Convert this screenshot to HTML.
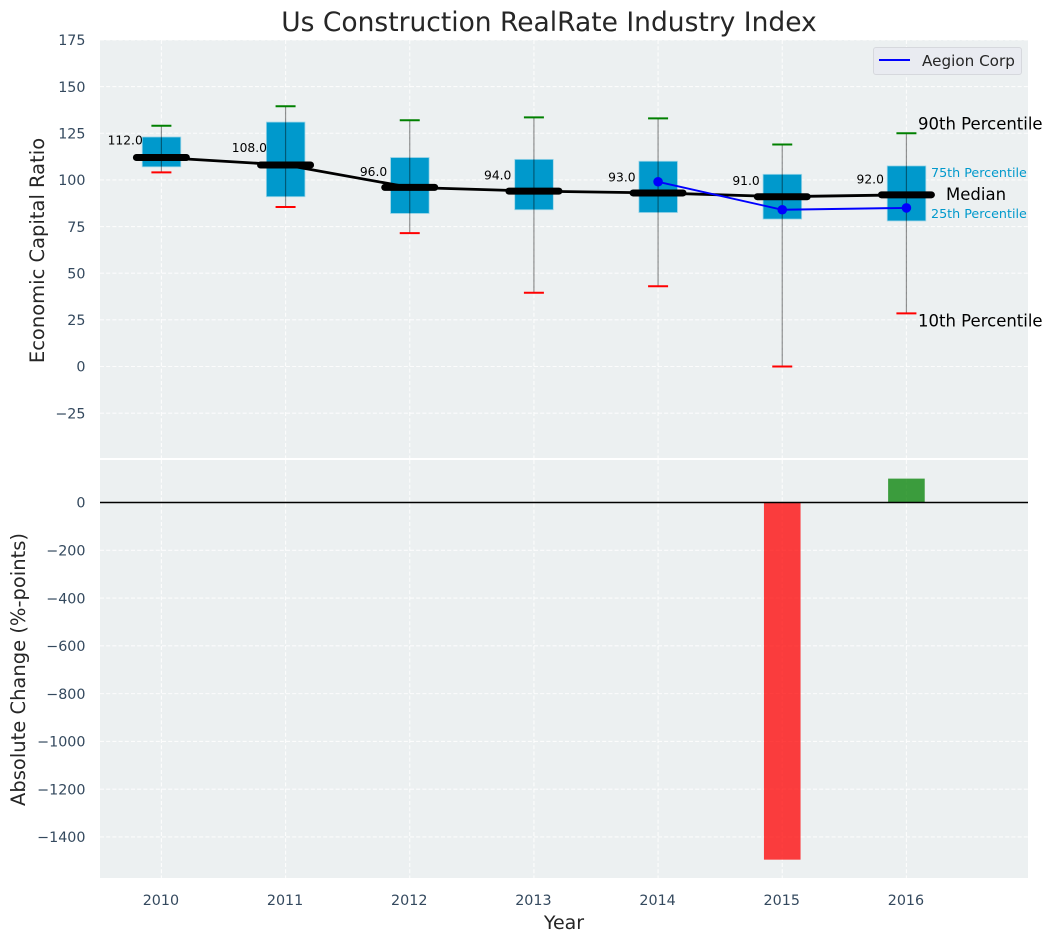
<!DOCTYPE html>
<html>
<head>
<meta charset="utf-8">
<title>Us Construction RealRate Industry Index</title>
<style>
html,body{margin:0;padding:0;background:#fff;}
svg{display:block;font-family:"DejaVu Sans","Liberation Sans",sans-serif;}
</style>
</head>
<body>
<svg id="chart" xmlns="http://www.w3.org/2000/svg" width="1053" height="942" viewBox="0 0 1053 942">
  <text x="549" y="31" text-anchor="middle" font-size="26.5" fill="#262626">Us Construction RealRate Industry Index</text>
  <rect x="100" y="40" width="928" height="418" fill="#ecf0f1"/>
  <rect x="100" y="460" width="928" height="418" fill="#ecf0f1"/>
  <g id="grid"></g>
  <g id="bars"></g>
  <g id="boxes"></g>
  <g id="lines"></g>
  <g id="labels"></g>
  <text x="0" y="0" transform="translate(44,250.5) rotate(-90)" text-anchor="middle" font-size="19.5" fill="#262626">Economic Capital Ratio</text>
  <text x="0" y="0" transform="translate(25,669.5) rotate(-90)" text-anchor="middle" font-size="19.5" fill="#262626">Absolute Change (%-points)</text>
  <text x="564" y="929" text-anchor="middle" font-size="19" fill="#262626">Year</text>
  <g>
    <rect x="873.5" y="47.5" width="148" height="27" rx="2.5" fill="#e9ebf1" stroke="#d6d8dd" stroke-width="1"/>
    <line x1="879" y1="60" x2="910" y2="60" stroke="#0000ff" stroke-width="2"/>
    <text x="922" y="66" font-size="15.2" fill="#262626">Aegion Corp</text>
  </g>
</svg>
<script>
var years = [2010, 2011, 2012, 2013, 2014, 2015, 2016];
var medians = [112, 108, 96, 94, 93, 91, 92];
var p10 = [104, 85.5, 71.5, 39.5, 43, 0, 28.5];
var p25 = [107, 91, 82, 84, 82.5, 79, 78];
var p75 = [123, 131, 112, 111, 110, 103, 107.5];
var p90 = [129, 139.5, 132, 133.5, 133, 119, 125];
var companyYears = [2014, 2015, 2016];
var companyValues = [99, 84, 85];
var changes = [0, 0, 0, 0, 0, -1495, 100];
var topTicks = [175, 150, 125, 100, 75, 50, 25, 0, -25];
var bottomTicks = [0, -200, -400, -600, -800, -1000, -1200, -1400];

var NS = 'http://www.w3.org/2000/svg';
function x(v) { return 161.4 + (v - 2010) * 124.17; }
function yTop(v) { return 366.5 - v * 1.866; }
function yBottom(v) { return 502.5 - v * 0.2389; }
function label(v) { return String(v).replace('-', '\u2212'); }
function mk(parent, tag, attrs, name, text) {
  var el = document.createElementNS(NS, tag);
  for (var k in attrs) { el.setAttribute(k, attrs[k]); }
  
  
  if (text !== undefined) { el.textContent = text; }
  document.getElementById(parent).appendChild(el);
  return el;
}
var gridStyle = {stroke: '#ffffff', 'stroke-width': 1.1, 'stroke-dasharray': '4 2.2', opacity: 0.85};
function gridLine(x1, y1, x2, y2, name) {
  var a = {x1: x1, y1: y1, x2: x2, y2: y2};
  for (var k in gridStyle) { a[k] = gridStyle[k]; }
  mk('grid', 'line', a, name);
}
var tickFill = '#34495e';
topTicks.forEach(function (t) {
  gridLine(100, yTop(t), 1028, yTop(t), 'top-grid-line-' + t);
  mk('labels', 'text', {x: 85.5, y: yTop(t) + 5.2, 'text-anchor': 'end', 'font-size': 14.3, fill: tickFill}, 'top-y-tick-' + t, label(t));
});
bottomTicks.forEach(function (t) {
  gridLine(100, yBottom(t), 1028, yBottom(t), 'bottom-grid-line-' + t);
  mk('labels', 'text', {x: 85.5, y: yBottom(t) + 5.2, 'text-anchor': 'end', 'font-size': 14.3, fill: tickFill}, 'bottom-y-tick-' + t, label(t));
});
years.forEach(function (yr) {
  gridLine(x(yr), 40, x(yr), 458, 'top-grid-vertical-' + yr);
  gridLine(x(yr), 460, x(yr), 878, 'bottom-grid-vertical-' + yr);
  mk('labels', 'text', {x: x(yr) - 0.5, y: 905, 'text-anchor': 'middle', 'font-size': 14.3, fill: tickFill}, 'x-tick-' + yr, String(yr));
});

// change bars
years.forEach(function (yr, i) {
  var v = changes[i];
  var y0 = yBottom(0), y1 = yBottom(v);
  mk('bars', 'rect', {
    x: x(yr) - 18.3, y: Math.min(y0, y1), width: 36.6, height: Math.abs(y1 - y0),
    fill: v < 0 ? '#ff0000' : '#008000', 'fill-opacity': 0.75
  }, 'change-bar-' + yr);
});
mk('bars', 'line', {x1: 100, y1: yBottom(0), x2: 1028, y2: yBottom(0), stroke: '#000000', 'stroke-width': 1.5}, 'zero-line');

// percentile boxes and whiskers
years.forEach(function (yr, i) {
  var cx = x(yr);
  mk('boxes', 'rect', {
    x: cx - 19.2, y: yTop(p75[i]), width: 38.6, height: yTop(p25[i]) - yTop(p75[i]),
    fill: '#0099cc', stroke: '#9fd6e8', 'stroke-width': 0.8
  }, 'box-' + yr);
  mk('boxes', 'line', {x1: cx, y1: yTop(p90[i]), x2: cx, y2: yTop(p10[i]), stroke: '#000000', 'stroke-opacity': 0.42, 'stroke-width': 1.2}, 'whisker-' + yr);
  mk('boxes', 'line', {x1: cx - 10, y1: yTop(p90[i]), x2: cx + 10, y2: yTop(p90[i]), stroke: '#008000', 'stroke-width': 2}, 'cap-p90-' + yr);
  mk('boxes', 'line', {x1: cx - 10, y1: yTop(p10[i]), x2: cx + 10, y2: yTop(p10[i]), stroke: '#ff0000', 'stroke-width': 2}, 'cap-p10-' + yr);
});

// median line
var medianPts = years.map(function (yr, i) { return x(yr) + ',' + yTop(medians[i]); }).join(' ');
mk('lines', 'polyline', {points: medianPts, fill: 'none', stroke: '#000000', 'stroke-width': 2.8}, 'median-line');
years.forEach(function (yr, i) {
  mk('lines', 'line', {
    x1: x(yr) - 25, y1: yTop(medians[i]), x2: x(yr) + 25, y2: yTop(medians[i]),
    stroke: '#000000', 'stroke-width': 7, 'stroke-linecap': 'round'
  }, 'median-bar-' + yr);
  mk('labels', 'text', {
    x: x(yr) - 36.2, y: yTop(medians[i]) - (medians[i] >= 100 ? 13 : 11.5), 'text-anchor': 'middle', 'font-size': 12.3, fill: '#000000'
  }, 'median-value-' + yr, medians[i].toFixed(1));
});

// company series
var companyPts = companyYears.map(function (yr, i) { return x(yr) + ',' + yTop(companyValues[i]); }).join(' ');
mk('lines', 'polyline', {points: companyPts, fill: 'none', stroke: '#0000ff', 'stroke-width': 1.9}, 'aegion-corp-line');
companyYears.forEach(function (yr, i) {
  mk('lines', 'circle', {cx: x(yr), cy: yTop(companyValues[i]), r: 4.8, fill: '#0000ff'}, 'aegion-corp-point-' + yr);
});

// percentile annotations attached to the final year
var last = years.length - 1;
var lx = x(years[last]);
mk('labels', 'text', {x: lx + 11.6, y: yTop(p90[last]) - 4, 'font-size': 16.5, fill: '#000000'}, 'annotation-90th-percentile', '90th Percentile');
mk('labels', 'text', {x: lx + 24.6, y: yTop(p75[last]) + 11, 'font-size': 12.7, fill: '#0099cc'}, 'annotation-75th-percentile', '75th Percentile');
mk('labels', 'text', {x: lx + 39.6, y: yTop(medians[last]) + 5, 'font-size': 16.5, fill: '#000000'}, 'annotation-median', 'Median');
mk('labels', 'text', {x: lx + 24.6, y: yTop(p25[last]) - 3, 'font-size': 12.7, fill: '#0099cc'}, 'annotation-25th-percentile', '25th Percentile');
mk('labels', 'text', {x: lx + 11.6, y: yTop(p10[last]) + 13, 'font-size': 16.5, fill: '#000000'}, 'annotation-10th-percentile', '10th Percentile');
</script>
</body>
</html>
